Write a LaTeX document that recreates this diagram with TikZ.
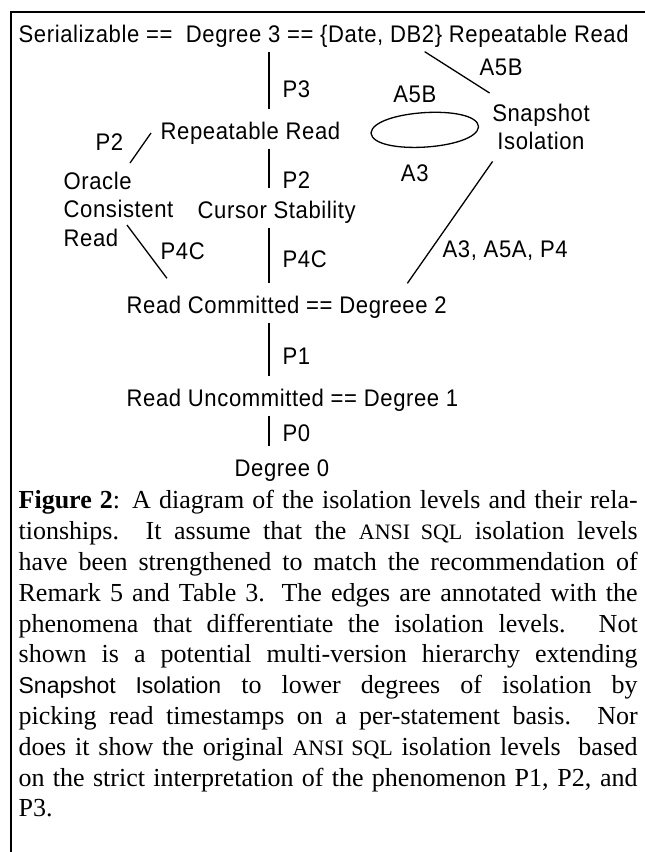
\documentclass[tikz,border=0pt]{standalone}
\usepackage{fontspec}
\setmainfont{Liberation Serif}
\newfontfamily\arialsp[FakeStretch=0.92,LetterSpace=2.5]{Liberation Sans}
\newfontfamily\arialcap{Liberation Sans}
\newcommand\ansisize{\fontsize{22}{30.8}\selectfont}

\begin{document}
\begin{tikzpicture}[x=1pt,y=-1pt,line width=1.3pt]
\tikzstyle{iso}=[anchor=base west,inner xsep=0pt,inner ysep=4pt,text height=17pt,text depth=5pt,font=\arialsp\fontsize{24}{28.5}\selectfont]
\tikzstyle{multi}=[inner sep=0pt,font=\arialsp\fontsize{24}{28.5}\selectfont]
\tikzstyle{arclabel}=[inner xsep=0pt,inner ysep=4pt,text height=17pt,text depth=5pt,font=\arialsp\fontsize{24}{28.5}\selectfont]
\tikzstyle{link}=[shorten >=8pt]
\useasboundingbox[fill=white] (0,0) rectangle (645,852);
\draw[line width=2pt] (11,852) -- (11,12) -- (645,12);
% isolation levels
\node[iso] (ser) at (18,42) {Serializable ==~ Degree 3 == \{Date, DB2\} Repeatable Read};
\node[iso] (rr) at (160,139) {Repeatable Read};
\node[iso] (cs) at (197,218) {Cursor Stability};
\node[iso] (rc) at (126,313) {Read Committed == Degreee 2};
\node[iso] (ru) at (126,406) {Read Uncommitted == Degree 1};
\node[iso] (d0) at (234,476) {Degree 0};
\node[multi,anchor=north west,align=left] (ocr) at (63,171) {Oracle\\Consistent\\Read};
\node[multi,anchor=north,align=center] (si) at (541,103) {Snapshot\\Isolation};
% phenomena
\foreach \n/\t/\y in {p3/P3/97,p2/P2/188,p4c/P4C/267,p1/P1/364,p0/P0/441}{
\node[iso] (\n) at (282,\y) {\t};
};
\node[iso] (p2o) at (95,150) {P2};
\node[iso] (p4co) at (160,259) {P4C};
\node[iso] (a5bs) at (479,75) {A5B};
\node[iso] (a3si) at (442,257) {A3, A5A, P4};
% edges
\coordinate (spine) at (269,0);
\foreach \a/\b in {ser/rr,rr/cs,cs/rc,rc/ru,ru/d0}{
\draw[link] (\a.south -| spine) -- (\b.north -| spine);
};
\draw ([xshift=101pt]ser.south) -- ([shift={(-2,-10)}]si.north west);
\draw ([xshift=-9pt]rr.west) -- ([shift={(67,-8)}]ocr.north west);
\draw ([shift={(64,54)}]ocr.north west) -- ([shift={(41,-13)}]rc.north west);
\draw ([shift={(1,11)}]si.south west) -- ([shift={(-40,-8)}]rc.north east);
\draw ([xshift=30pt]rr.east) .. controls +(2,-23) and +(-2,-23) .. ([xshift=-13pt]si.west)
  node[arclabel,midway,above,xshift=-10pt] (a5br) {A5B};
\draw ([xshift=30pt]rr.east) .. controls +(2,23) and +(-2,23) .. ([xshift=-13pt]si.west)
  node[arclabel,midway,below=13pt,xshift=-10pt] (a3r) {A3};
% caption
\node[anchor=north west,inner sep=0pt,text width=619pt,align=justify,font=\fontsize{26}{30.8}\selectfont] (cap) at (18,490) {\textbf{Figure 2}: A diagram of the isolation levels and their rela-\linebreak tionships.  It assume that the {\ansisize ANSI SQL} isolation levels\linebreak have been strengthened to match the recommendation of\linebreak Remark 5 and Table 3.  The edges are annotated with the\linebreak phenomena that differentiate the isolation levels.  Not\linebreak shown is a potential multi-version hierarchy extending\linebreak {\arialcap\fontsize{23}{30.8}\selectfont Snapshot Isolation} to lower degrees of isolation by\linebreak picking read timestamps on a per-statement basis.  Nor\linebreak does it show the original {\ansisize ANSI SQL} isolation levels\ \ based\linebreak on the strict interpretation of the phenomenon P1, P2, and\linebreak P3.};
\end{tikzpicture}
\end{document}
